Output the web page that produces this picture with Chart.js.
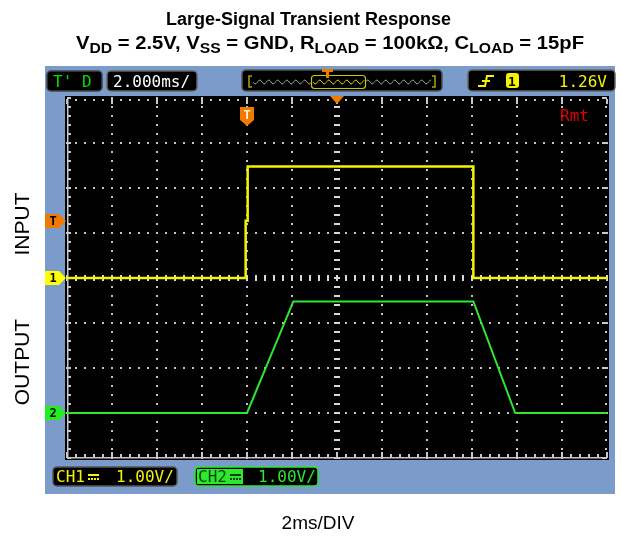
<!DOCTYPE html>
<html>
<head>
<meta charset="utf-8">
<script src="https://cdn.jsdelivr.net/npm/chart.js@4.4.1/dist/chart.umd.min.js"></script>
<style>
html, body { margin: 0; padding: 0; background: #fff; }
#wrap { width: 622px; height: 539px; }
</style>
</head>
<body>
<div id="wrap"><canvas id="chart" width="622" height="539"></canvas></div>
<script>
// ---------- DATOS ----------
const msPerDiv = 2;
const xDivs = 12;
const yDivs = 8;
// CH1 (entrada), tiempo en ms y tensión en V
const inputTime  = [0, 7.94, 7.94, 8.03, 8.03, 18.06, 18.06, 24];
const inputVolts = [0, 0, 1.27, 1.27, 2.48, 2.48, 0, 0];
// CH2 (salida)
const outputTime  = [0, 8.0, 10.06, 18.06, 19.92, 24];
const outputVolts = [0, 0, 2.48, 2.48, 0, 0];
const triggerTime = 8;
const triggerLevel = 1.26;
// posición de cada canal en divisiones
const ch1Offset = 0;
const ch2Offset = -3;

const YELLOW = '#f4f400';
const GREEN = '#2ee82e';
const ORANGE = '#f07a00';
const MONO = '16px "DejaVu Sans Mono", monospace';

function rrect(c, x, y, w, h, r) {
    c.beginPath();
    c.moveTo(x + r, y);
    c.arcTo(x + w, y, x + w, y + h, r);
    c.arcTo(x + w, y + h, x, y + h, r);
    c.arcTo(x, y + h, x, y, r);
    c.arcTo(x, y, x + w, y, r);
    c.closePath();
}

function box(c, x, y, w, h, border) {
    rrect(c, x, y, w, h, 4);
    c.fillStyle = '#000';
    c.fill();
    c.strokeStyle = border;
    c.lineWidth = 1.5;
    c.stroke();
}

// texto con subíndices, ajustado al ancho indicado
function richText(c, parts, x, y, width) {
    const fontOf = p => p.sub ? 'bold 14px "Liberation Sans", Arial' : 'bold 18px "Liberation Sans", Arial';
    let total = 0;
    for (const p of parts) { c.font = fontOf(p); total += c.measureText(p.t).width; }
    c.save();
    c.translate(x, y);
    c.scale(width / total, 1);
    let cx = 0;
    for (const p of parts) {
        c.font = fontOf(p);
        c.fillText(p.t, cx, p.sub ? 4 : 0);
        cx += c.measureText(p.t).width;
    }
    c.restore();
}

// marcador lateral tipo flecha
function sideMarker(c, y, color, label) {
    c.beginPath();
    c.moveTo(45, y - 7);
    c.lineTo(59, y - 7);
    c.lineTo(66, y);
    c.lineTo(59, y + 7);
    c.lineTo(45, y + 7);
    c.closePath();
    c.fillStyle = color;
    c.fill();
    c.fillStyle = '#000';
    c.font = 'bold 12px "DejaVu Sans Mono", monospace';
    c.textAlign = 'center';
    c.textBaseline = 'middle';
    c.fillText(label, 53, y + 1);
    c.textAlign = 'left';
    c.textBaseline = 'alphabetic';
}

function wave(c, x0, x1, y, color) {
    c.beginPath();
    for (let x = x0; x <= x1; x++) {
        const yy = y + 2 * Math.sin((x - x0) / 9 * 2 * Math.PI);
        if (x === x0) c.moveTo(x, yy); else c.lineTo(x, yy);
    }
    c.strokeStyle = color;
    c.lineWidth = 1;
    c.stroke();
}

const scopePlugin = {
    id: 'scope',
    beforeDraw(chart) {
        const c = chart.ctx, a = chart.chartArea, ys = chart.scales.y;
        c.save();
        c.fillStyle = '#fff';
        c.fillRect(0, 0, chart.width, chart.height);

        // ---------- TÍTULO ----------
        c.fillStyle = '#000';
        c.font = 'bold 18px "Liberation Sans", Arial';
        c.fillText('Large-Signal Transient Response', 166, 25);
        richText(c, [
            { t: 'V' }, { t: 'DD', sub: true }, { t: ' = 2.5V, V' }, { t: 'SS', sub: true },
            { t: ' = GND, R' }, { t: 'LOAD', sub: true }, { t: ' = 100kΩ, C' },
            { t: 'LOAD', sub: true }, { t: ' = 15pF' }
        ], 76, 49, 508);

        // etiquetas laterales
        c.font = '21px "Liberation Sans", Arial';
        c.textAlign = 'center';
        c.textBaseline = 'middle';
        c.save();
        c.translate(23, 224); c.rotate(-Math.PI / 2); c.fillText('INPUT', 0, 0);
        c.restore();
        c.save();
        c.translate(23, 362); c.rotate(-Math.PI / 2); c.fillText('OUTPUT', 0, 0);
        c.restore();
        c.font = '19px "Liberation Sans", Arial';
        c.fillText('2ms/DIV', 318, 524);
        c.textAlign = 'left';
        c.textBaseline = 'alphabetic';

        // ---------- PANEL DEL OSCILOSCOPIO ----------
        c.fillStyle = '#7b9bca';
        c.fillRect(45, 66, 570, 428);
        c.fillStyle = '#000';
        c.fillRect(a.left - 2, a.top - 2, a.width + 4, a.height + 4);

        // barra superior
        box(c, 47, 71, 55, 20, '#444');
        c.font = MONO;
        c.fillStyle = '#00e000';
        c.fillText("T' D", 53, 87);
        box(c, 107, 71, 90, 20, '#666');
        c.fillStyle = '#fff';
        c.fillText('2.000ms/', 113, 87);

        box(c, 242, 70, 200, 21, '#555');
        c.strokeStyle = '#a8a800';
        c.lineWidth = 1.5;
        c.beginPath();
        c.moveTo(252, 76); c.lineTo(249, 76); c.lineTo(249, 87); c.lineTo(252, 87);
        c.moveTo(432, 76); c.lineTo(435, 76); c.lineTo(435, 87); c.lineTo(432, 87);
        c.stroke();
        wave(c, 253, 431, 82, '#a0a0a0');
        c.fillStyle = '#000';
        c.fillRect(312, 76, 53, 12);
        wave(c, 313, 364, 82, '#d8d800');
        rrect(c, 311.5, 75.5, 54, 13, 3);
        c.strokeStyle = '#c8c800';
        c.lineWidth = 1.2;
        c.stroke();
        c.fillStyle = ORANGE;
        c.fillRect(322, 69, 11, 3);
        c.fillRect(326, 69, 3, 9);

        box(c, 468, 70, 147, 21, '#666');
        c.strokeStyle = YELLOW;
        c.lineWidth = 2;
        c.beginPath();
        c.moveTo(478, 86); c.lineTo(485, 86); c.lineTo(487, 76); c.lineTo(494, 76);
        c.moveTo(482, 81); c.lineTo(490, 81);
        c.stroke();
        rrect(c, 506, 73, 13, 15, 3);
        c.fillStyle = YELLOW;
        c.fill();
        c.fillStyle = '#000';
        c.font = 'bold 13px "DejaVu Sans Mono", monospace';
        c.fillText('1', 508, 86);
        c.font = MONO;
        c.fillStyle = YELLOW;
        c.textAlign = 'right';
        c.fillText('1.26V', 607, 87);
        c.textAlign = 'left';

        // barra inferior
        box(c, 53, 467, 124, 19, '#555');
        c.fillStyle = YELLOW;
        c.font = MONO;
        c.fillText('CH1', 56, 482);
        c.fillRect(88, 474, 11, 2);
        for (let k = 0; k < 4; k++) c.fillRect(88 + k * 3, 478, 2, 2);
        c.fillText('1.00V/', 116, 482);

        box(c, 195, 467, 123, 19, GREEN);
        c.fillStyle = GREEN;
        c.fillRect(197, 469, 46, 15);
        c.fillStyle = '#0b3d0b';
        c.fillText('CH2', 198, 482);
        c.fillRect(230, 474, 11, 2);
        for (let k = 0; k < 4; k++) c.fillRect(230 + k * 3, 478, 2, 2);
        c.fillStyle = GREEN;
        c.fillText('1.00V/', 258, 482);

        // marcadores de canal y disparo
        sideMarker(c, Math.round(ys.getPixelForValue(triggerLevel + ch1Offset)), ORANGE, 'T');
        sideMarker(c, Math.round(ys.getPixelForValue(ch1Offset)), '#ffff00', '1');
        sideMarker(c, Math.round(ys.getPixelForValue(ch2Offset)), '#22ee22', '2');
        c.restore();
    },
    beforeDatasetsDraw(chart) {
        const c = chart.ctx, a = chart.chartArea, xs = chart.scales.x, ys = chart.scales.y;
        const yMin = -yDivs / 2;
        const xMax = xDivs * msPerDiv;
        c.save();
        c.fillStyle = '#c4c4c4';
        // líneas punteadas
        for (let d = 1; d < xDivs; d++) {
            if (d === xDivs / 2) continue;
            const px = Math.round(xs.getPixelForValue(d * msPerDiv));
            for (let k = 0; k <= yDivs * 5; k++) {
                const py = Math.round(ys.getPixelForValue(yMin + k / 5));
                c.fillRect(px - 1, py - 1, 2, 2);
            }
        }
        for (let d = 1; d < yDivs; d++) {
            if (d === yDivs / 2) continue;
            const py = Math.round(ys.getPixelForValue(yMin + d));
            for (let k = 0; k <= xDivs * 5; k++) {
                const px = Math.round(xs.getPixelForValue(k * msPerDiv / 5));
                c.fillRect(px - 1, py - 1, 2, 2);
            }
        }
        // ejes centrales con marcas
        c.fillStyle = '#d8d8d8';
        const cy = Math.round(ys.getPixelForValue(0));
        for (let k = 0; k <= xDivs * 5; k++) {
            const px = Math.round(xs.getPixelForValue(k * msPerDiv / 5));
            c.fillRect(px - 1, cy - 3, 2, 6);
        }
        const cx = Math.round(xs.getPixelForValue(xMax / 2));
        for (let k = 0; k <= yDivs * 5; k++) {
            const py = Math.round(ys.getPixelForValue(yMin + k / 5));
            c.fillRect(cx - 3, py - 1, 6, 2);
        }
        // bordes
        c.fillStyle = '#c8c8c8';
        c.fillRect(a.left, a.top, 1.5, a.height);
        c.fillRect(a.left, a.bottom - 1, a.width, 1.5);
        for (let k = 0; k <= yDivs * 5; k++) {
            const py = Math.round(ys.getPixelForValue(yMin + k / 5));
            c.fillRect(a.left, py - 1, 4, 2);
            c.fillRect(a.right - 2, py - 1, 2, 2);
            if (k % 5 === 0) c.fillRect(a.right - 5, py - 1, 5, 2);
        }
        for (let k = 0; k <= xDivs * 5; k++) {
            const px = Math.round(xs.getPixelForValue(k * msPerDiv / 5));
            c.fillRect(px - 1, a.bottom - 4, 2, 4);
            c.fillRect(px - 1, a.top + 1, 2, 2);
            if (k % 5 === 0) {
                c.fillRect(px - 1, a.bottom - 6, 2, 6);
                c.fillRect(px - 1, a.top + 1, 2, 5);
            }
        }
        c.restore();
    },
    afterDatasetsDraw(chart) {
        const c = chart.ctx, a = chart.chartArea, xs = chart.scales.x;
        c.save();
        // flecha de posición central
        const cx = Math.round(xs.getPixelForValue(xDivs * msPerDiv / 2));
        c.fillStyle = ORANGE;
        c.beginPath();
        c.moveTo(cx - 7, a.top - 2);
        c.lineTo(cx + 7, a.top - 2);
        c.lineTo(cx, a.top + 6);
        c.closePath();
        c.fill();
        // bandera de disparo
        const tx = Math.round(xs.getPixelForValue(triggerTime));
        c.beginPath();
        c.moveTo(tx - 7, a.top + 9);
        c.lineTo(tx + 7, a.top + 9);
        c.lineTo(tx + 7, a.top + 22);
        c.lineTo(tx, a.top + 28);
        c.lineTo(tx - 7, a.top + 22);
        c.closePath();
        c.fill();
        c.fillStyle = '#fff2d0';
        c.font = 'bold 12px "DejaVu Sans Mono", monospace';
        c.textAlign = 'center';
        c.fillText('T', tx, a.top + 21);
        // remoto
        c.fillStyle = '#e00000';
        c.font = MONO;
        c.textAlign = 'left';
        c.fillText('Rmt', 560, a.top + 23);
        c.restore();
    }
};

// ---------- INICIALIZAR GRÁFICA ----------
const ctx = document.getElementById('chart');
const chart = new Chart(ctx, {
    type: 'line',
    data: {
        datasets: [{
            label: 'INPUT',
            data: inputTime.map((t, i) => ({ x: t, y: inputVolts[i] + ch1Offset })),
            borderColor: YELLOW,
            borderWidth: 2.5
        }, {
            label: 'OUTPUT',
            data: outputTime.map((t, i) => ({ x: t, y: outputVolts[i] + ch2Offset })),
            borderColor: GREEN,
            borderWidth: 2
        }]
    },
    options: {
        responsive: false,
        animation: false,
        devicePixelRatio: 1,
        layout: { padding: { left: 67, right: 15, top: 98, bottom: 81 } },
        elements: { point: { radius: 0 }, line: { tension: 0 } },
        plugins: { legend: { display: false }, tooltip: { enabled: false } },
        scales: {
            x: { type: 'linear', min: 0, max: xDivs * msPerDiv, display: false },
            y: { type: 'linear', min: -yDivs / 2, max: yDivs / 2, display: false }
        }
    },
    plugins: [scopePlugin]
});
</script>
</body>
</html>
